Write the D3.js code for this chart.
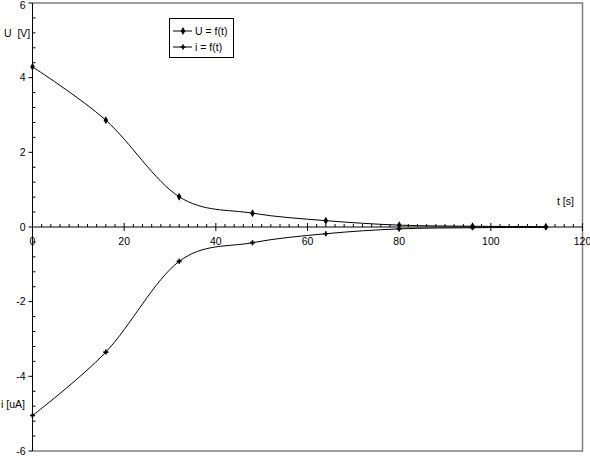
<!DOCTYPE html>
<html><head><meta charset="utf-8">
<script src="https://cdn.jsdelivr.net/npm/d3@7"></script>
<style>
body{margin:0;background:#fff;}
text{font-family:"Liberation Sans Narrow","Arial Narrow","Liberation Sans",sans-serif;font-size:10.5px;fill:#000;white-space:pre;}
</style></head><body>
<svg id="c" width="590" height="460"></svg>
<script>
const times = [0, 16, 32, 48, 64, 80, 96, 112];
const uValues = [4.29, 2.86, 0.81, 0.37, 0.17, 0.05, 0.02, 0.01];
const iValues = [-5.05, -3.35, -0.92, -0.42, -0.18, -0.05, -0.02, -0.01];
const xTicks = [0, 20, 40, 60, 80, 100, 120];
const yTicks = [-6, -4, -2, 0, 2, 4, 6];
const seriesNames = ["U = f(t)", "i = f(t)"];

const svg = d3.select("#c");
const x = d3.scaleLinear().domain([0, 120]).range([32.5, 582.5]);
const y = d3.scaleLinear().domain([-6, 6]).range([451, 3]);

// frame (gray top/right/bottom)
svg.append("path")
  .attr("d", `M${x(0)},${y(6)}H${x(120)}V${y(-6)}H${x(0)}`)
  .attr("fill", "none").attr("stroke", "#808080").attr("stroke-width", 1.5);

// y axis
const gy = svg.append("g");
gy.append("line").attr("x1", x(0)).attr("x2", x(0)).attr("y1", y(6)).attr("y2", y(-6)).attr("stroke", "#000");
gy.selectAll(".ymaj").data(yTicks).enter().append("line")
  .attr("x1", x(0) - 4).attr("x2", x(0)).attr("y1", d => y(d)).attr("y2", d => y(d)).attr("stroke", "#000");
gy.selectAll(".ymin").data(d3.range(-6, 6.001, 0.4).filter(v => Math.abs(Math.round(v) - v) > 0.01 || Math.round(v) % 2 !== 0)).enter().append("line")
  .attr("x1", x(0)).attr("x2", x(0) + 3).attr("y1", d => y(d)).attr("y2", d => y(d)).attr("stroke", "#000");
gy.selectAll(".ylab").data(yTicks).enter().append("text")
  .attr("x", x(0) - 7).attr("y", d => Math.max(y(d), 5)).attr("dy", "0.35em").attr("text-anchor", "end")
  .text(d => d);

// x axis at y=0
const gx = svg.append("g");
gx.append("line").attr("x1", x(0)).attr("x2", x(120)).attr("y1", y(0)).attr("y2", y(0)).attr("stroke", "#000");
gx.selectAll(".xmaj").data(xTicks).enter().append("line")
  .attr("x1", d => x(d)).attr("x2", d => x(d)).attr("y1", y(0) - 4).attr("y2", y(0) + 4).attr("stroke", "#000");
gx.selectAll(".xmin").data(d3.range(0, 120.001, 2).filter(v => v % 20 !== 0)).enter().append("line")
  .attr("x1", d => x(d)).attr("x2", d => x(d)).attr("y1", y(0) - 3).attr("y2", y(0)).attr("stroke", "#000");
gx.selectAll(".xlab").data(xTicks).enter().append("text")
  .attr("x", d => x(d)).attr("y", y(0) + 18).attr("text-anchor", "middle")
  .text(d => d);

// axis titles
svg.append("text").attr("x", 4).attr("y", 37).text("U  [V]");
svg.append("text").attr("x", 557).attr("y", 205).text("t [s]");
svg.append("text").attr("x", 1).attr("y", 408).text("i [uA]");

// series
const line = d3.line().x(d => x(d[0])).y(d => y(d[1])).curve(d3.curveCardinal.tension(0));
const uData = times.map((t, k) => [t, uValues[k]]);
const iData = times.map((t, k) => [t, iValues[k]]);
const diamond = d3.symbol().type(d3.symbolDiamond).size(18);
const cross = d3.symbol().type(d3.symbolCross).size(14);

[[uData, diamond], [iData, cross]].forEach(([data, sym]) => {
  svg.append("path").attr("d", line(data)).attr("fill", "none").attr("stroke", "#000").attr("stroke-width", 1);
  svg.selectAll(null).data(data).enter().append("path")
    .attr("d", sym).attr("transform", d => `translate(${x(d[0])},${y(d[1])})`).attr("fill", "#000");
});

// legend
const lg = svg.append("g");
lg.append("rect").attr("x", 169.5).attr("y", 18.5).attr("width", 64).attr("height", 39)
  .attr("fill", "#fff").attr("stroke", "#000");
seriesNames.forEach((name, k) => {
  const yy = 31 + k * 16;
  lg.append("line").attr("x1", 173).attr("x2", 192).attr("y1", yy).attr("y2", yy).attr("stroke", "#000");
  lg.append("path").attr("d", k === 0 ? diamond : cross).attr("transform", `translate(183,${yy})`).attr("fill", "#000");
  lg.append("text").attr("x", 195).attr("y", yy).attr("dy", "0.35em").text(name);
});
</script>
</body></html>
